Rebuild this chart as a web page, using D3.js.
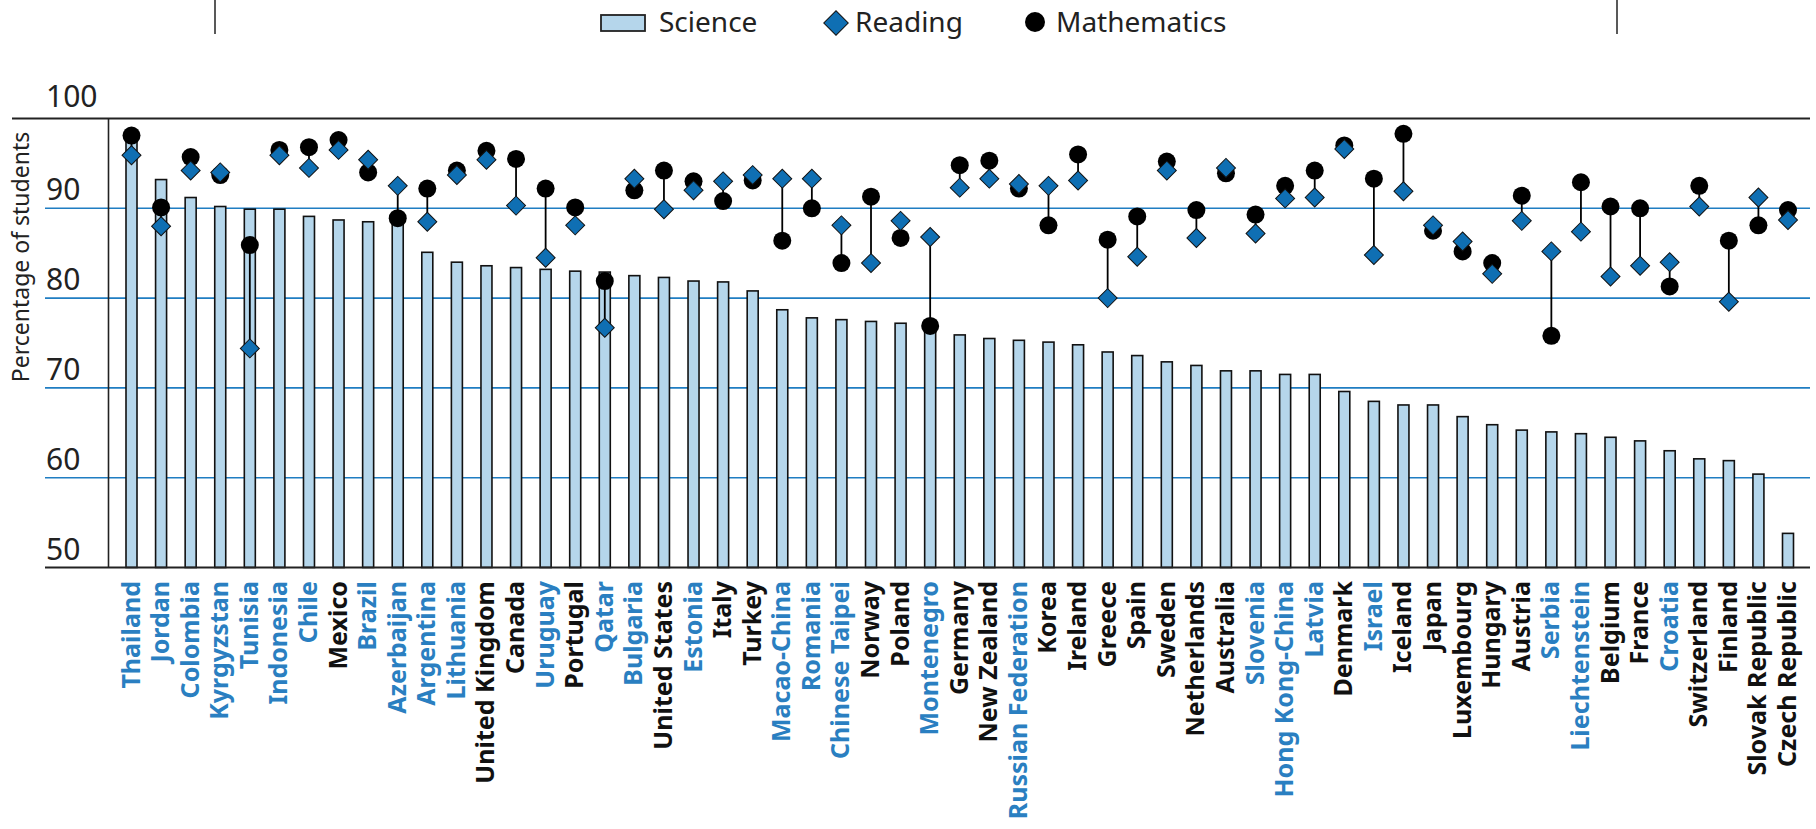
<!DOCTYPE html>
<html>
<head>
<meta charset="utf-8">
<script src="https://d3js.org/d3.v7.min.js"></script>
<style>
  body { margin: 0; background: #fff; }
  text { font-family: "Noto Sans", "Open Sans", sans-serif; }
</style>
</head>
<body>
<svg width="1816" height="829"></svg>
<script>

    var countries = ["Thailand", "Jordan", "Colombia", "Kyrgyzstan", "Tunisia", "Indonesia", "Chile", "Mexico",
        "Brazil", "Azerbaijan", "Argentina", "Lithuania", "United Kingdom", "Canada", "Uruguay", "Portugal",
        "Qatar", "Bulgaria", "United States", "Estonia", "Italy", "Turkey", "Macao-China", "Romania",
        "Chinese Taipei", "Norway", "Poland", "Montenegro", "Germany", "New Zealand", "Russian Federation",
        "Korea", "Ireland", "Greece", "Spain", "Sweden", "Netherlands", "Australia", "Slovenia",
        "Hong Kong-China", "Latvia", "Denmark", "Israel", "Iceland", "Japan", "Luxembourg", "Hungary",
        "Austria", "Serbia", "Liechtenstein", "Belgium", "France", "Croatia", "Switzerland", "Finland",
        "Slovak Republic", "Czech Republic"];

    // partner countries (labels in blue)
    var partners = ["Thailand", "Jordan", "Colombia", "Kyrgyzstan", "Tunisia", "Indonesia", "Chile", "Brazil",
        "Azerbaijan", "Argentina", "Lithuania", "Uruguay", "Qatar", "Bulgaria", "Estonia", "Macao-China",
        "Romania", "Chinese Taipei", "Montenegro", "Russian Federation", "Slovenia", "Hong Kong-China",
        "Latvia", "Israel", "Serbia", "Liechtenstein", "Croatia"];

    var science = [97.5, 93.2, 91.2, 90.2, 89.9, 89.9, 89.1, 88.7, 88.5, 88.3, 85.1, 84.0, 83.6, 83.4, 83.2, 83.0,
        82.9, 82.5, 82.3, 81.9, 81.8, 80.8, 78.7, 77.8, 77.6, 77.4, 77.2, 76.5, 75.9, 75.5, 75.3, 75.1, 74.8,
        74.0, 73.6, 72.9, 72.5, 71.9, 71.9, 71.5, 71.5, 69.6, 68.5, 68.1, 68.1, 66.8, 65.9, 65.3, 65.1, 64.9,
        64.5, 64.1, 63.0, 62.1, 61.9, 60.4, 53.8];

    var reading = [95.9, 88.0, 94.2, 94.0, 74.4, 95.9, 94.5, 96.5, 95.4, 92.5, 88.5, 93.7, 95.4, 90.3, 84.5, 88.1,
        76.7, 93.3, 89.9, 92.0, 93.0, 93.7, 93.3, 93.3, 88.1, 83.9, 88.6, 86.8, 92.3, 93.3, 92.7, 92.5, 93.1,
        80.0, 84.6, 94.2, 86.7, 94.5, 87.2, 91.1, 91.2, 96.6, 84.8, 91.9, 88.1, 86.3, 82.7, 88.6, 85.2, 87.4,
        82.4, 83.6, 84.0, 90.2, 79.6, 91.2, 88.7];

    var mathematics = [98.1, 90.1, 95.7, 93.7, 85.9, 96.5, 96.8, 97.6, 94.0, 88.9, 92.2, 94.2, 96.4, 95.5, 92.2,
        90.1, 81.9, 92.0, 94.2, 93.0, 90.8, 93.1, 86.4, 90.0, 83.9, 91.3, 86.7, 76.9, 94.8, 95.3, 92.2, 88.1,
        96.0, 86.5, 89.1, 95.2, 89.8, 93.9, 89.3, 92.5, 94.2, 97.0, 93.3, 98.3, 87.5, 85.2, 83.9, 91.4, 75.8,
        92.9, 90.2, 90.0, 81.3, 92.5, 86.4, 88.1, 89.8];

    var yTicks = [50, 60, 70, 80, 90, 100];

    var data = countries.map(function(c, i) {
        return {country: c, science: science[i], reading: reading[i], math: mathematics[i]};
    });

    var svg = d3.select("svg");
    var blue = "#1f7dc2", barFill = "#b5d6eb", diamondFill = "#0f6fb3";

    var x = d3.scalePoint().domain(countries).range([131.5, 1788]),
        y = d3.scaleLinear().domain([50, 100]).range([567.5, 118.5]);

    var left = 45, right = 1810, axisX = 108.5;

    // top decoration lines
    svg.append("line").attr("x1", 215).attr("x2", 215).attr("y1", 0).attr("y2", 34)
        .attr("stroke", "#222").attr("stroke-width", 1.5);
    svg.append("line").attr("x1", 1617).attr("x2", 1617).attr("y1", 0).attr("y2", 34)
        .attr("stroke", "#222").attr("stroke-width", 1.5);

    // legend
    var lg = svg.append("g");
    lg.append("rect").attr("x", 601).attr("y", 15).attr("width", 44).attr("height", 16)
        .attr("fill", barFill).attr("stroke", "#222").attr("stroke-width", 1.8);
    lg.append("text").attr("x", 659).attr("y", 32).attr("font-size", 28).attr("fill", "#222").text("Science");
    lg.append("path").attr("d", d3.symbol(d3.symbolSquare, 300)())
        .attr("transform", "translate(836,23) rotate(45)")
        .attr("fill", diamondFill).attr("stroke", "#111").attr("stroke-width", 1);
    lg.append("text").attr("x", 855).attr("y", 32).attr("font-size", 28).attr("fill", "#222").text("Reading");
    lg.append("circle").attr("cx", 1035).attr("cy", 22).attr("r", 10).attr("fill", "#000");
    lg.append("text").attr("x", 1056).attr("y", 32).attr("font-size", 28).attr("fill", "#222").text("Mathematics");

    // gridlines + tick labels
    svg.selectAll(".grid")
        .data(yTicks.filter(function(d) { return d > 50 && d < 100; }))
        .enter().append("line")
        .attr("class", "grid")
        .attr("x1", left).attr("x2", right)
        .attr("y1", function(d) { return y(d); })
        .attr("y2", function(d) { return y(d); })
        .attr("stroke", blue).attr("stroke-width", 1.6);

    svg.selectAll(".tick-label")
        .data(yTicks)
        .enter().append("text")
        .attr("class", "tick-label")
        .attr("x", 46)
        .attr("y", function(d) { return y(d) - (d === 100 ? 12 : 8); })
        .attr("font-size", 30)
        .attr("fill", "#222")
        .text(function(d) { return d; });

    svg.append("text")
        .attr("transform", "translate(29,257) rotate(-90)")
        .attr("text-anchor", "middle")
        .attr("font-size", 23)
        .attr("fill", "#222")
        .text("Percentage of students");

    // bars
    svg.selectAll(".bar")
        .data(data)
        .enter().append("rect")
        .attr("class", "bar")
        .attr("x", function(d) { return x(d.country) - 5.5; })
        .attr("y", function(d) { return y(d.science); })
        .attr("width", 11)
        .attr("height", function(d) { return y(50) - y(d.science); })
        .attr("fill", barFill)
        .attr("stroke", "#111")
        .attr("stroke-width", 1.6);

    // frame lines
    svg.append("line").attr("x1", 12).attr("x2", right).attr("y1", y(100)).attr("y2", y(100))
        .attr("stroke", "#222").attr("stroke-width", 1.8);
    svg.append("line").attr("x1", left).attr("x2", right).attr("y1", y(50)).attr("y2", y(50))
        .attr("stroke", "#222").attr("stroke-width", 2);
    svg.append("line").attr("x1", axisX).attr("x2", axisX).attr("y1", y(100)).attr("y2", y(50))
        .attr("stroke", "#222").attr("stroke-width", 1.6);

    // connectors between reading and mathematics
    svg.selectAll(".conn")
        .data(data)
        .enter().append("line")
        .attr("class", "conn")
        .attr("x1", function(d) { return x(d.country); })
        .attr("x2", function(d) { return x(d.country); })
        .attr("y1", function(d) { return y(d.reading); })
        .attr("y2", function(d) { return y(d.math); })
        .attr("stroke", "#000").attr("stroke-width", 1.8);

    svg.selectAll(".math")
        .data(data)
        .enter().append("circle")
        .attr("class", "math")
        .attr("cx", function(d) { return x(d.country); })
        .attr("cy", function(d) { return y(d.math); })
        .attr("r", 9)
        .attr("fill", "#000");

    var diamond = d3.symbol(d3.symbolSquare, 180);
    svg.selectAll(".reading")
        .data(data)
        .enter().append("path")
        .attr("class", "reading")
        .attr("d", diamond)
        .attr("transform", function(d) {
            return "translate(" + x(d.country) + "," + y(d.reading) + ") rotate(45)";
        })
        .attr("fill", diamondFill)
        .attr("stroke", "#111").attr("stroke-width", 1);

    // country labels
    svg.selectAll(".country")
        .data(countries)
        .enter().append("text")
        .attr("class", "country")
        .attr("transform", function(d) { return "translate(" + (x(d) + 8) + ",581) rotate(-90)"; })
        .attr("text-anchor", "end")
        .attr("font-size", 25)
        .attr("font-weight", "bold")
        .attr("fill", function(d) { return partners.indexOf(d) >= 0 ? "#2a7fc1" : "#111"; })
        .text(function(d) { return d; });

</script>
</body>
</html>
